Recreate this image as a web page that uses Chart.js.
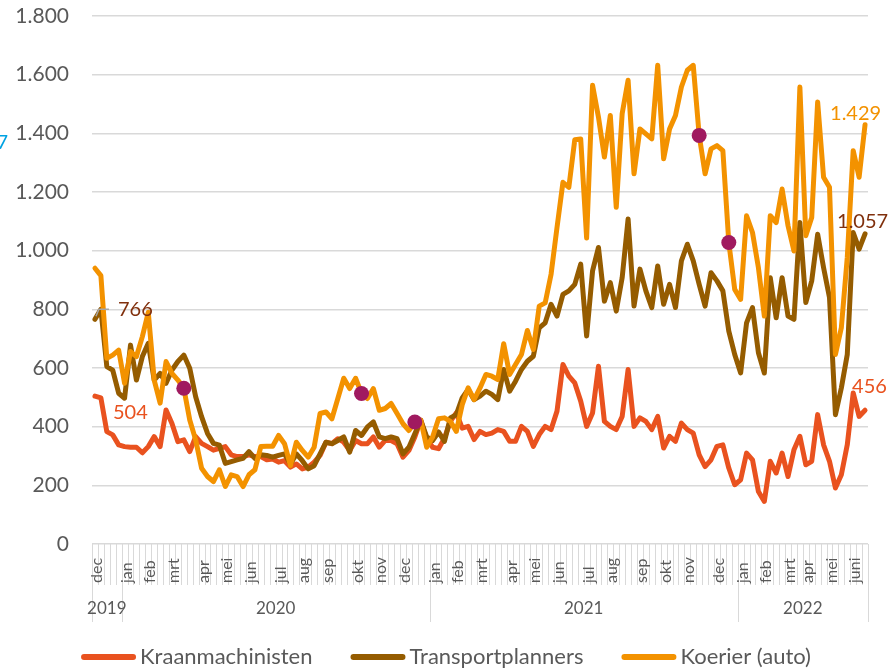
<!DOCTYPE html>
<html lang="nl">
<head>
<meta charset="utf-8">
<title>Vacatures per week</title>
<script src="https://cdn.jsdelivr.net/npm/chart.js@4.4.0/dist/chart.umd.min.js"></script>
<style>
  html, body { margin: 0; padding: 0; background: #fff; }
  #wrap { position: relative; width: 888px; height: 670px; }
</style>
</head>
<body>
<div id="wrap"><canvas id="grafiek"></canvas></div>
<script>
// Maanden op de as (label staat bij de eerste week van de maand)
const maanden = ['dec',
  'jan', 'feb', 'mrt', 'apr', 'mei', 'jun', 'jul', 'aug', 'sep', 'okt', 'nov', 'dec',
  'jan', 'feb', 'mrt', 'apr', 'mei', 'jun', 'jul', 'aug', 'sep', 'okt', 'nov', 'dec',
  'jan', 'feb', 'mrt', 'apr', 'mei', 'juni'];
const wekenPerMaand = [5,
  4, 4, 5, 4, 4, 5, 4, 4, 5, 4, 4, 5,
  4, 4, 5, 4, 4, 5, 4, 5, 4, 4, 5, 4,
  4, 4, 3, 4, 4, 3];
const jaren = ['2019', '2020', '2021', '2022'];
const wekenPerJaar = [5, 52, 52, 22];
const yTicks = [0, 200, 400, 600, 800, 1000, 1200, 1400, 1600, 1800];

// Aantal vacatures per week
const kraanmachinisten = [
  504, 498, 383, 372, 338, 332, 330, 330, 311, 332,
  366, 332, 457, 411, 349, 355, 315, 366, 343, 332,
  320, 326, 332, 304, 298, 298, 304, 298, 298, 287,
  290, 279, 284, 262, 273, 256, 262, 279, 302, 347,
  342, 359, 347, 319, 353, 342, 342, 365, 330, 353,
  353, 342, 296, 319, 365, 422, 359, 330, 325, 361,
  418, 447, 395, 401, 356, 384, 373, 378, 390, 384,
  350, 350, 401, 384, 333, 373, 401, 390, 453, 612,
  572, 549, 487, 401, 447, 606, 418, 401, 390, 435,
  595, 401, 430, 418, 390, 435, 327, 367, 350, 412,
  390, 378, 304, 264, 287, 333, 338, 259, 202, 219,
  310, 287, 179, 145, 282, 242, 310, 230, 321, 367,
  270, 282, 441, 338, 282, 191, 236, 338, 515, 435,
  456];
const transportplanners = [
  766, 800, 605, 593, 514, 497, 678, 559, 639, 684,
  559, 582, 548, 593, 622, 644, 599, 502, 434, 377,
  343, 337, 275, 281, 287, 292, 315, 292, 304, 302,
  296, 302, 307, 273, 307, 284, 256, 267, 307, 347,
  342, 353, 365, 313, 387, 370, 399, 416, 365, 359,
  365, 359, 307, 330, 376, 422, 365, 353, 382, 350,
  430, 441, 498, 527, 492, 504, 521, 510, 492, 595,
  521, 555, 595, 623, 640, 737, 754, 817, 777, 851,
  863, 885, 954, 709, 931, 1011, 828, 891, 794, 908,
  1108, 811, 937, 863, 806, 948, 817, 885, 806, 965,
  1022, 965, 885, 811, 925, 897, 863, 726, 646, 583,
  754, 806, 652, 583, 908, 771, 908, 777, 766, 1096,
  823, 897, 1056, 942, 840, 441, 532, 646, 1062, 1005,
  1057];
const koerier = [
  940, 915, 633, 644, 661, 548, 656, 639, 707, 790,
  559, 480, 622, 582, 559, 531, 423, 355, 258, 230,
  213, 253, 196, 236, 230, 196, 236, 253, 332, 333,
  333, 370, 342, 267, 347, 319, 296, 330, 445, 450,
  427, 496, 565, 530, 565, 513, 496, 530, 456, 462,
  479, 445, 410, 387, 416, 422, 330, 365, 427, 430,
  418, 384, 475, 532, 492, 532, 578, 572, 561, 683,
  578, 612, 646, 728, 663, 811, 822, 920, 1079, 1233,
  1216, 1378, 1381, 1043, 1564, 1455, 1319, 1461, 1148, 1467,
  1581, 1262, 1415, 1398, 1381, 1632, 1313, 1415, 1461, 1558,
  1615, 1632, 1393, 1262, 1347, 1358, 1341, 1028, 868, 834,
  1119, 1062, 942, 777, 1119, 1096, 1210, 1085, 999, 1558,
  1051, 1113, 1507, 1250, 1216, 646, 737, 977, 1341, 1250,
  1429];
// weken met een markering op de koerierlijn
const markeerWeken = [15, 45, 54, 102, 107];

const KLEUR = {
  kraan: '#e9521f',
  transport: '#955c00',
  koerier: '#f39200',
  stip: '#a01a60',
  labelBruin: '#80300d',
  tekst: '#595959',
  raster: '#d9d9d9'
};
const FONT = 'Lato';

// labels per week: maandnaam in de eerste week, verder leeg
const weekLabels = [];
maanden.forEach((m, k) => {
  for (let w = 0; w < wekenPerMaand[k]; w++) weekLabels.push(w === 0 ? m : '');
});
const jaarGrenzen = [0];
wekenPerJaar.forEach(n => jaarGrenzen.push(jaarGrenzen[jaarGrenzen.length - 1] + n));

const fmt = v => String(v).replace(/\B(?=(\d{3})+(?!\d))/g, '.');

// Categorie-as met weekstreepjes, maanden en jaren
const categorieAs = {
  id: 'categorieAs',
  afterDraw(chart) {
    const ctx = chart.ctx, x = chart.scales.x, area = chart.chartArea;
    const w = x.getPixelForValue(1) - x.getPixelForValue(0);
    const grens = k => x.getPixelForValue(k) - w / 2;
    ctx.save();
    ctx.strokeStyle = KLEUR.raster;
    ctx.lineWidth = 1;
    for (let k = 0; k <= weekLabels.length; k++) {
      const px = Math.round(grens(k)) + 0.5;
      const lang = jaarGrenzen.includes(k);
      ctx.beginPath();
      ctx.moveTo(px, area.bottom);
      ctx.lineTo(px, area.bottom + (lang ? 78 : 41));
      ctx.stroke();
    }
    ctx.fillStyle = KLEUR.tekst;
    ctx.font = '16px ' + FONT;
    ctx.textAlign = 'left';
    ctx.textBaseline = 'middle';
    weekLabels.forEach((lab, i) => {
      if (!lab) return;
      ctx.save();
      ctx.translate(x.getPixelForValue(i) + 2, area.bottom + 39);
      ctx.rotate(-Math.PI / 2);
      ctx.fillText(lab, 0, 0);
      ctx.restore();
    });
    ctx.font = '17px ' + FONT;
    ctx.textAlign = 'center';
    jaren.forEach((j, k) => {
      const mid = (grens(jaarGrenzen[k]) + grens(jaarGrenzen[k + 1])) / 2;
      ctx.fillText(j, mid, area.bottom + 65);
    });
    ctx.restore();
  }
};

// Waardelabels bij begin- en eindpunten
const waardeLabels = {
  id: 'waardeLabels',
  afterDraw(chart) {
    const ctx = chart.ctx;
    const laatste = koerier.length - 1;
    const lijst = [
      { ds: 0, i: 0, kleur: KLEUR.kraan, dx: 18, dy: 16 },
      { ds: 1, i: 0, kleur: KLEUR.labelBruin, dx: 23, dy: -10 },
      { ds: 2, i: laatste, kleur: KLEUR.koerier, dx: -35, dy: -11 },
      { ds: 1, i: laatste, kleur: KLEUR.labelBruin, dx: -28, dy: -12 },
      { ds: 0, i: laatste, kleur: KLEUR.kraan, dx: -13, dy: -24 }
    ];
    ctx.save();
    ctx.font = '20px ' + FONT;
    ctx.textAlign = 'left';
    ctx.textBaseline = 'middle';
    // klein verbindingslijntje bij 766
    const p0 = chart.getDatasetMeta(1).data[0];
    ctx.strokeStyle = '#a6a6a6';
    ctx.lineWidth = 1.5;
    ctx.beginPath();
    ctx.moveTo(p0.x + 1, p0.y - 3);
    ctx.lineTo(p0.x + 4, p0.y - 10);
    ctx.lineTo(p0.x + 14, p0.y - 10);
    ctx.stroke();
    lijst.forEach(l => {
      const p = chart.getDatasetMeta(l.ds).data[l.i];
      ctx.fillStyle = l.kleur;
      ctx.fillText(fmt(chart.data.datasets[l.ds].data[l.i]), p.x + l.dx, p.y + l.dy);
    });
    // afgesneden label links
    ctx.fillStyle = '#00a2e2';
    ctx.textAlign = 'right';
    ctx.fillText('7', 8, 143);
    ctx.restore();
  }
};

// Legenda onderaan
const legenda = {
  id: 'legenda',
  afterDraw(chart) {
    const ctx = chart.ctx;
    const items = chart.data.datasets.filter(d => d.inLegenda);
    const lijn = 55, gat = 4, tussen = 38, y = 657;
    ctx.save();
    ctx.font = '22px ' + FONT;
    ctx.textBaseline = 'middle';
    ctx.textAlign = 'left';
    const breedtes = items.map(d => ctx.measureText(d.label).width);
    const totaal = breedtes.reduce((s, b) => s + lijn + gat + b, 0) + tussen * (items.length - 1);
    let x = 446 - totaal / 2;
    items.forEach((d, k) => {
      ctx.strokeStyle = d.borderColor;
      ctx.lineWidth = 6;
      ctx.lineCap = 'round';
      ctx.beginPath();
      ctx.moveTo(x + 3, y);
      ctx.lineTo(x + lijn - 3, y);
      ctx.stroke();
      ctx.fillStyle = KLEUR.tekst;
      ctx.fillText(d.label, x + lijn + gat, y);
      x += lijn + gat + breedtes[k] + tussen;
    });
    ctx.restore();
  }
};

function lijn(label, data, kleur, volgorde) {
  return {
    label, data, inLegenda: true,
    borderColor: kleur, backgroundColor: kleur,
    borderWidth: 5, pointRadius: 0, tension: 0,
    borderJoinStyle: 'round', borderCapStyle: 'round',
    order: volgorde
  };
}

function maakGrafiek() {
  Chart.defaults.font.family = FONT;
  new Chart(document.getElementById('grafiek'), {
    type: 'line',
    data: {
      labels: weekLabels,
      datasets: [
        lijn('Kraanmachinisten', kraanmachinisten, KLEUR.kraan, 3),
        lijn('Transportplanners', transportplanners, KLEUR.transport, 2),
        lijn('Koerier (auto)', koerier, KLEUR.koerier, 1),
        {
          label: 'markering',
          data: koerier.map((v, i) => markeerWeken.includes(i) ? v : null),
          showLine: false,
          pointRadius: 7.5,
          pointBackgroundColor: KLEUR.stip,
          pointBorderWidth: 0,
          order: 0
        }
      ]
    },
    options: {
      responsive: true,
      maintainAspectRatio: false,
      animation: false,
      layout: { padding: { top: 16, right: 20, bottom: 126, left: 0 } },
      plugins: { legend: { display: false }, tooltip: { enabled: false } },
      scales: {
        x: { display: false, offset: true },
        y: {
          min: 0, max: 1800,
          afterBuildTicks: s => { s.ticks = yTicks.map(v => ({ value: v })); },
          afterFit: s => { s.width = 92; s.paddingTop = 0; s.paddingBottom = 0; },
          border: { display: false },
          grid: { color: KLEUR.raster, lineWidth: 1.5, drawTicks: false },
          ticks: {
            padding: 23, color: KLEUR.tekst,
            font: { size: 21, family: FONT },
            callback: v => fmt(v)
          }
        }
      }
    },
    plugins: [categorieAs, waardeLabels, legenda]
  });
}

document.fonts.load('20px ' + FONT).then(maakGrafiek, maakGrafiek);
</script>
</body>
</html>
